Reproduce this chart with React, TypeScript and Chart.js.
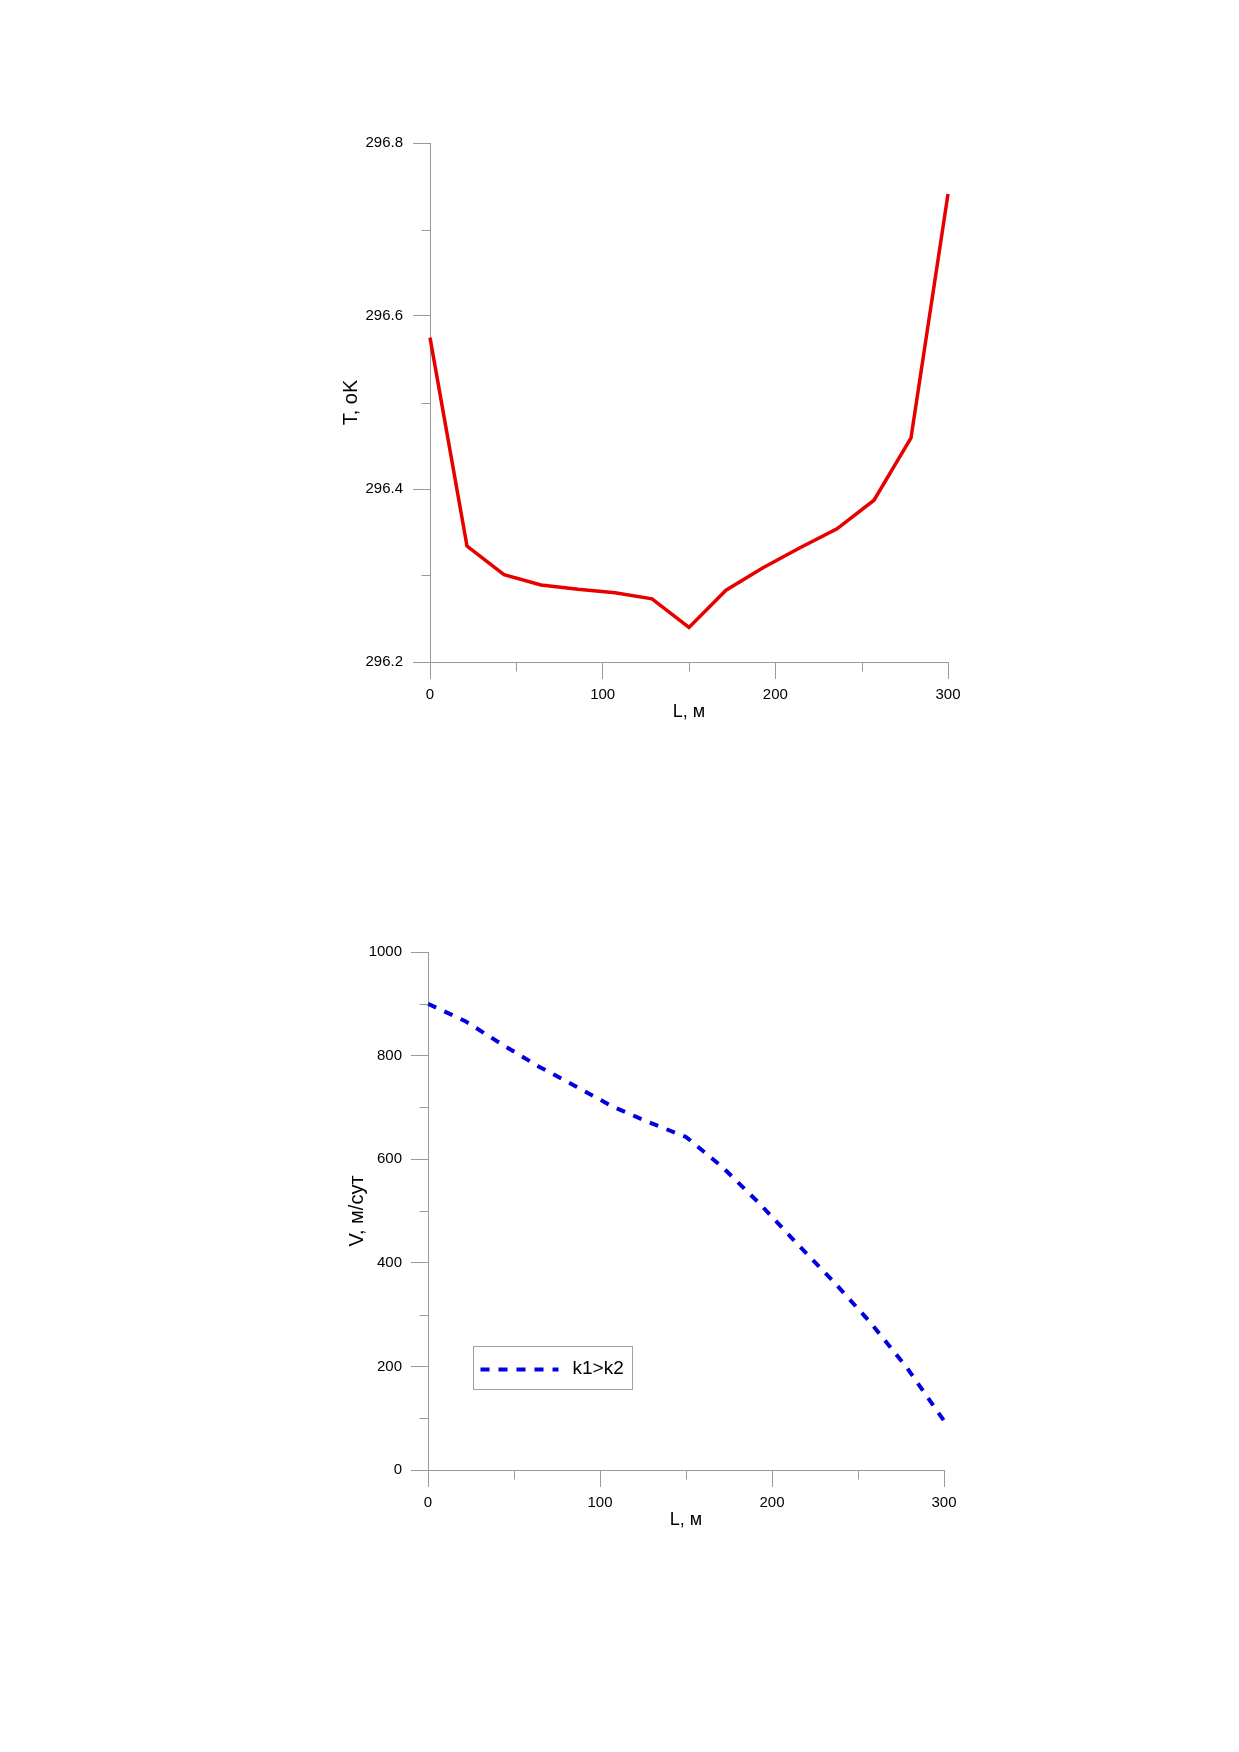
import React, { useEffect, useRef } from "react";
import { Chart, registerables } from "chart.js";

Chart.register(...registerables);

// ---- data ----
const distance = [0, 21.43, 42.86, 64.29, 85.71, 107.14, 128.57, 150, 171.43, 192.86, 214.29, 235.71, 257.14, 278.57, 300];
const temperature = [296.575, 296.334, 296.301, 296.289, 296.284, 296.28, 296.273, 296.24, 296.283, 296.309, 296.332, 296.354, 296.387, 296.459, 296.741];
const velocity = [900, 867, 822, 779, 741, 702, 671, 643, 584, 514, 438, 364, 285, 197, 95];

const xMinorTicks = [50, 150, 250];
const tMinorTicks = [296.3, 296.5, 296.7];
const vMinorTicks = [100, 300, 500, 700, 900];

const seriesLabel = "k1>k2";
const xTitle = "L, м";
const tTitle = "T, oK";
const vTitle = "V, м/сут";

const FONT = "'Liberation Sans', Arial, Helvetica, sans-serif";
const AXIS_COLOR = "#9a9a9a";

function minorTickPlugin(xs: number[], ys: number[]) {
  return {
    id: "minorTicks",
    afterDraw(chart: any) {
      const ctx = chart.ctx;
      const sx = chart.scales.x;
      const sy = chart.scales.y;
      ctx.save();
      ctx.strokeStyle = AXIS_COLOR;
      ctx.lineWidth = 1;
      ctx.beginPath();
      xs.forEach((v) => {
        const px = Math.round(sx.getPixelForValue(v)) + 0.5;
        const top = Math.round(sx.top) + 0.5;
        ctx.moveTo(px, top);
        ctx.lineTo(px, top + 9);
      });
      ys.forEach((v) => {
        const py = Math.round(sy.getPixelForValue(v)) + 0.5;
        const right = Math.round(sy.right) + 0.5;
        ctx.moveTo(right, py);
        ctx.lineTo(right - 9, py);
      });
      ctx.stroke();
      ctx.restore();
    },
  };
}

const legendPlugin = {
  id: "boxLegend",
  afterDraw(chart: any) {
    const { ctx, chartArea } = chart;
    const w = chartArea.right - chartArea.left;
    const h = chartArea.bottom - chartArea.top;
    const bx = Math.round(chartArea.left + 0.0875 * w) + 0.5;
    const by = Math.round(chartArea.bottom - 0.2385 * h) + 0.5;
    const bw = Math.round(0.309 * w);
    const bh = Math.round(0.0837 * h);
    const ds = chart.data.datasets[0];
    ctx.save();
    ctx.fillStyle = "#fff";
    ctx.fillRect(bx, by, bw, bh);
    ctx.strokeStyle = "#a0a0a0";
    ctx.lineWidth = 1;
    ctx.strokeRect(bx, by, bw, bh);
    const my = by + bh / 2 + 1.5;
    ctx.strokeStyle = ds.borderColor;
    ctx.lineWidth = ds.borderWidth;
    ctx.setLineDash(ds.borderDash);
    ctx.beginPath();
    ctx.moveTo(bx + 7, my);
    ctx.lineTo(bx + 85, my);
    ctx.stroke();
    ctx.setLineDash([]);
    ctx.fillStyle = "#000";
    ctx.font = `19px ${FONT}`;
    ctx.textBaseline = "middle";
    ctx.textAlign = "left";
    ctx.fillText(ds.label, bx + 99, by + bh / 2 + 1);
    ctx.restore();
  },
};

function axisCommon(titleText: string, size: number, titlePad: number) {
  return {
    type: "linear" as const,
    grid: {
      display: true,
      drawOnChartArea: false,
      drawTicks: true,
      tickLength: 17,
      tickColor: AXIS_COLOR,
      color: AXIS_COLOR,
      tickWidth: 1,
    },
    border: { display: true, color: AXIS_COLOR, width: 1 },
    title: {
      display: true,
      text: titleText,
      color: "#000",
      font: { family: FONT, size },
      padding: { top: titlePad, bottom: 0 },
    },
  };
}

function buildConfig(kind: "T" | "V"): any {
  const isT = kind === "T";
  const values = isT ? temperature : velocity;
  const points = distance.map((x, i) => ({ x, y: values[i] }));
  return {
    type: "line",
    data: {
      datasets: [
        {
          label: isT ? "T" : seriesLabel,
          data: points,
          borderColor: isT ? "#e60000" : "#0000e0",
          borderWidth: isT ? 3.5 : 4,
          borderDash: isT ? [] : [9, 9],
          borderCapStyle: "butt",
          pointRadius: 0,
          tension: 0,
          fill: false,
          clip: 10,
        },
      ],
    },
    options: {
      animation: false,
      responsive: true,
      maintainAspectRatio: false,
      events: [],
      layout: {
        padding: isT
          ? { left: 34, right: 52, top: 43, bottom: 57 }
          : { left: 46, right: 55, top: 52, bottom: 49 },
      },
      plugins: {
        legend: { display: false },
        tooltip: { enabled: false },
      },
      scales: {
        x: {
          ...axisCommon(xTitle, 18, 0),
          min: 0,
          max: 300,
          ticks: {
            stepSize: 100,
            color: "#000",
            font: { family: FONT, size: 15 },
            padding: 7,
            maxRotation: 0,
          },
          afterFit: (s: any) => {
            s.height = 61;
          },
        },
        y: {
          ...axisCommon(isT ? tTitle : vTitle, 20, isT ? 5 : 0),
          min: isT ? 296.2 : 0,
          max: isT ? 296.8 : 1000,
          ticks: {
            stepSize: isT ? 0.2 : 200,
            color: "#000",
            font: { family: FONT, size: 15 },
            padding: isT ? 10 : 9,
            callback: (v: number) => (isT ? Number(v).toFixed(1) : String(Math.round(v))),
          },
          afterFit: (s: any) => {
            s.width = isT ? 96 : 83;
          },
        },
      },
    },
    plugins: isT
      ? [minorTickPlugin(xMinorTicks, tMinorTicks)]
      : [minorTickPlugin(xMinorTicks, vMinorTicks), legendPlugin],
  };
}

function ChartBox(props: { kind: "T" | "V"; left: number; top: number; width: number; height: number }) {
  const ref = useRef<HTMLCanvasElement | null>(null);
  useEffect(() => {
    if (!ref.current) return;
    const chart = new Chart(ref.current, buildConfig(props.kind));
    return () => chart.destroy();
  }, [props.kind]);
  return (
    <div
      style={{
        position: "absolute",
        left: props.left,
        top: props.top,
        width: props.width,
        height: props.height,
      }}
    >
      <canvas ref={ref} />
    </div>
  );
}

export default function App() {
  return (
    <div
      style={{
        position: "absolute",
        left: 0,
        top: 0,
        width: 1239,
        height: 1752,
        background: "#fff",
        overflow: "hidden",
      }}
    >
      <ChartBox kind="T" left={300} top={100} width={700} height={680} />
      <ChartBox kind="V" left={299} top={900} width={700} height={680} />
    </div>
  );
}
